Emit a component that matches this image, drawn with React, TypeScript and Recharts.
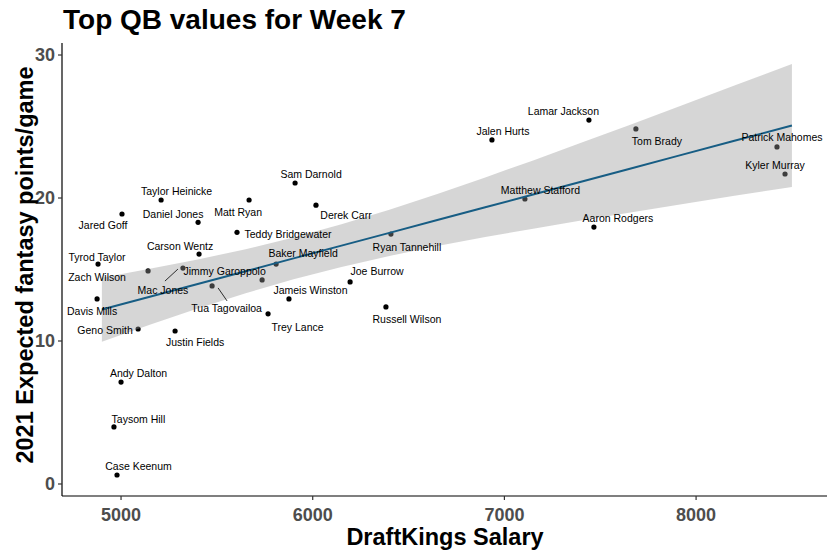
import React from 'react'
import { ComposedChart, Scatter, Area, Line, XAxis, YAxis } from 'recharts'

// ──────────────────────────────────────────────
// Data
// ──────────────────────────────────────────────
const players = [
  'Case Keenum', 'Taysom Hill', 'Andy Dalton', 'Geno Smith', 'Justin Fields',
  'Davis Mills', 'Zach Wilson', 'Tyrod Taylor', 'Jared Goff', 'Taylor Heinicke',
  'Daniel Jones', 'Carson Wentz', 'Mac Jones', 'Tua Tagovailoa', 'Jimmy Garoppolo',
  'Matt Ryan', 'Teddy Bridgewater', 'Sam Darnold', 'Derek Carr', 'Baker Mayfield',
  'Jameis Winston', 'Trey Lance', 'Joe Burrow', 'Ryan Tannehill', 'Russell Wilson',
  'Jalen Hurts', 'Lamar Jackson', 'Tom Brady', 'Matthew Stafford', 'Aaron Rodgers',
  'Patrick Mahomes', 'Kyler Murray',
]
const salaries = [
  4979, 4963, 5000, 5089, 5282,
  4875, 5141, 4880, 5005, 5209,
  5402, 5407, 5323, 5475, 5736,
  5668, 5605, 5908, 6017, 5809,
  5876, 5767, 6195, 6408, 6382,
  6935, 7441, 7686, 7107, 7467,
  8422, 8464,
]
const expPoints = [
  0.63, 3.99, 7.13, 10.84, 10.7,
  12.94, 14.9, 15.38, 18.88, 19.86,
  18.3, 16.08, 15.1, 13.85, 14.27,
  19.86, 17.6, 21.05, 19.5, 15.38,
  12.94, 11.9, 14.13, 17.48, 12.38,
  24.06, 25.45, 24.83, 19.93, 17.97,
  23.57, 21.68,
]

// smoother (lm) band + fit, read at a few salaries
const bandSalary = [4900, 5150, 5400, 5650, 5900, 6150, 6400, 6650, 6900, 7150, 7400, 7650, 7900, 8200, 8500]
const bandLower = [9.95, 11.14, 12.27, 13.34, 14.32, 15.18, 15.95, 16.64, 17.27, 17.85, 18.43, 18.97, 19.51, 20.15, 20.77]
const bandUpper = [14.42, 15.05, 15.7, 16.42, 17.24, 18.16, 19.17, 20.28, 21.44, 22.63, 23.86, 25.09, 26.35, 27.86, 29.37]
const fitValues = [12.2, 13.09, 13.99, 14.88, 15.78, 16.67, 17.56, 18.46, 19.35, 20.24, 21.14, 22.03, 22.93, 24.0, 25.07]

const xTicks = [5000, 6000, 7000, 8000]
const yTicks = [0, 10, 20, 30]

const scatterData = players.map((name, i) => ({ name, salary: salaries[i], pts: expPoints[i] }))
const bandData = bandSalary.map((s, i) => ({ salary: s, range: [bandLower[i], bandUpper[i]] }))
const fitData = bandSalary.map((s, i) => ({ salary: s, fit: fitValues[i] }))

// label placement (repel-style), px offset of the text centre from its point
const labelOffset: Record<string, [number, number]> = {
  'Case Keenum': [21.5, -9],
  'Taysom Hill': [24.5, -8],
  'Andy Dalton': [17.5, -9],
  'Geno Smith': [-33, 1],
  'Justin Fields': [20, 11],
  'Davis Mills': [-5, 12],
  'Zach Wilson': [-51, 6],
  'Tyrod Taylor': [-1, -7],
  'Jared Goff': [-19, 11],
  'Taylor Heinicke': [15.5, -9],
  'Daniel Jones': [-25, -8],
  'Carson Wentz': [-19, -8],
  'Mac Jones': [-20, 22],
  'Tua Tagovailoa': [14.5, 22],
  'Jimmy Garoppolo': [-37.5, -9],
  'Matt Ryan': [-11, 12],
  'Teddy Bridgewater': [51, 2],
  'Sam Darnold': [16, -9],
  'Derek Carr': [30, 10],
  'Baker Mayfield': [27, -11],
  'Jameis Winston': [21.5, -9],
  'Trey Lance': [29.5, 13],
  'Joe Burrow': [27, -11],
  'Ryan Tannehill': [16, 13],
  'Russell Wilson': [21, 12],
  'Jalen Hurts': [11, -9],
  'Lamar Jackson': [-25.5, -9],
  'Tom Brady': [21, 12],
  'Matthew Stafford': [15.5, -9],
  'Aaron Rodgers': [24, -9],
  'Patrick Mahomes': [5, -10],
  'Kyler Murray': [-10, -9],
}
// leader segments, [x1, y1, x2, y2] relative to the point
const leaders: Record<string, [number, number, number, number]> = {
  'Mac Jones': [-18, 13, -5, 1],
  'Tua Tagovailoa': [6, 2, 15, 15],
}

const FONT = '"Liberation Sans", Arial, Helvetica, sans-serif'

const Dot = (p: any) => <circle cx={p.cx} cy={p.cy} r={2.6} fill="#000" />

const NameLabel = (p: any) => {
  const name = p.payload.name
  const [dx, dy] = labelOffset[name] ?? [0, -9]
  const seg = leaders[name]
  return (
    <g>
      {seg && (
        <line x1={p.cx + seg[0]} y1={p.cy + seg[1]} x2={p.cx + seg[2]} y2={p.cy + seg[3]} stroke="#000" strokeWidth={0.8} />
      )}
      <text x={p.cx + dx} y={p.cy + dy} textAnchor="middle" dominantBaseline="central"
        fontFamily={FONT} fontSize={10.5} fill="#000">
        {name}
      </text>
    </g>
  )
}

const XTick = (p: any) => (
  <text x={p.x} y={p.y + 13} textAnchor="middle" dominantBaseline="central"
    fontFamily={FONT} fontSize={18} fontWeight="bold" fill="#4d4d4d">
    {p.payload.value}
  </text>
)

const YTick = (p: any) => (
  <text x={p.x - 1} y={p.y} textAnchor="end" dominantBaseline="central"
    fontFamily={FONT} fontSize={18} fontWeight="bold" fill="#4d4d4d">
    {p.payload.value}
  </text>
)

export default function App() {
  return (
    <div style={{ position: 'absolute', left: 0, top: 0, width: 835, height: 556, background: '#fff' }}>
      <ComposedChart width={835} height={556} margin={{ top: 43, right: 8, bottom: 0, left: 0 }}>
        <XAxis dataKey="salary" type="number" domain={[4692, 8683]} ticks={xTicks} allowDataOverflow
          height={60} tickSize={4} stroke="#000" strokeWidth={1.2}
          tickLine={{ stroke: '#333' }} tick={<XTick />} />
        <YAxis type="number" domain={[-0.84, 30.84]} ticks={yTicks} allowDataOverflow
          width={62} tickSize={4} stroke="#000" strokeWidth={1.2}
          tickLine={{ stroke: '#333' }} tick={<YTick />} />
        {/* points sit under the translucent band, as in ggplot */}
        <Scatter data={scatterData} dataKey="pts" shape={<Dot />} zIndex={50} isAnimationActive={false} />
        <Area data={bandData} dataKey="range" type="linear" fill="#999999" fillOpacity={0.4}
          stroke="none" zIndex={100} isAnimationActive={false} />
        <Line data={fitData} dataKey="fit" type="linear" stroke="#175d84" strokeWidth={2}
          dot={false} zIndex={200} isAnimationActive={false} />
        <Scatter data={scatterData} dataKey="pts" shape={<NameLabel />} zIndex={300} isAnimationActive={false} />
      </ComposedChart>
      <svg width={835} height={556} style={{ position: 'absolute', left: 0, top: 0, pointerEvents: 'none' }}>
        <text x={63} y={29} fontFamily={FONT} fontSize={28} fontWeight="bold" fill="#000">
          Top QB values for Week 7
        </text>
        <text x={445} y={537} textAnchor="middle" dominantBaseline="central"
          fontFamily={FONT} fontSize={23.5} fontWeight="bold" fill="#000">
          DraftKings Salary
        </text>
        <text x={25} y={265} transform="rotate(-90 25 265)" textAnchor="middle" dominantBaseline="central"
          fontFamily={FONT} fontSize={23.5} fontWeight="bold" fill="#000">
          2021 Expected fantasy points/game
        </text>
      </svg>
    </div>
  )
}
